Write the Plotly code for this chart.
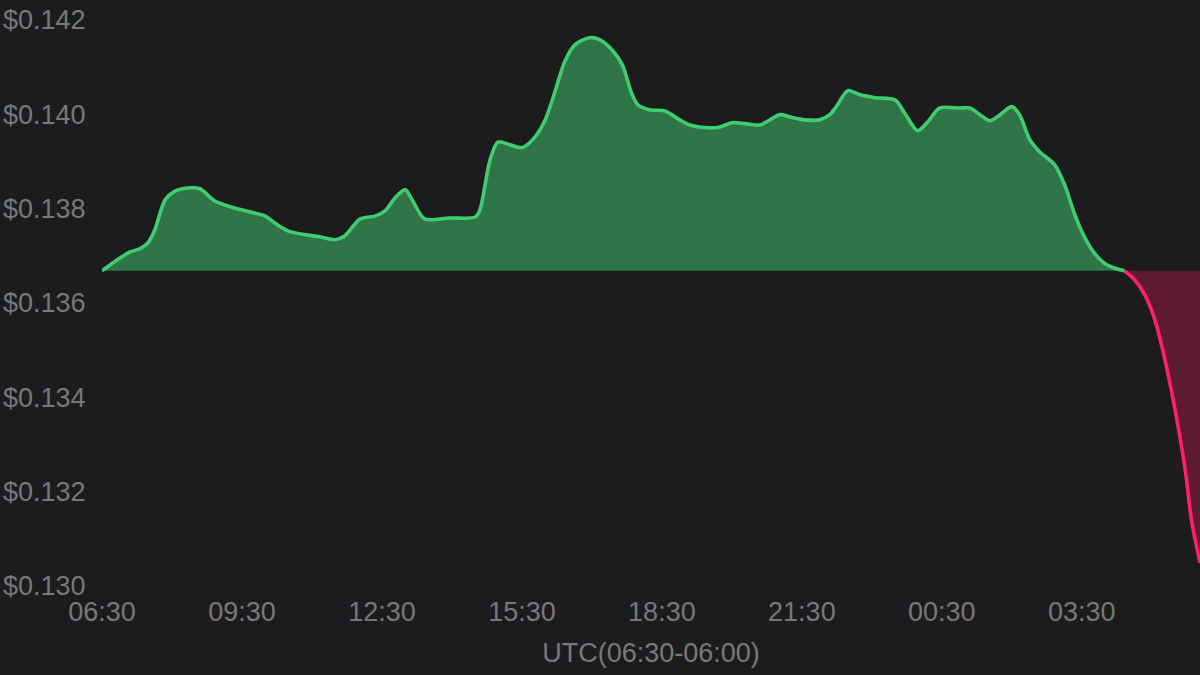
import plotly.graph_objects as go
from datetime import datetime

times = ["06:30","06:53","07:06","07:19","07:29","07:38","07:51","08:04","08:23","08:36",
         "08:55","09:15","09:40","10:00","10:16","10:32","11:10","11:30","11:42","12:02",
         "12:21","12:34","12:47","13:00","13:09","13:25","13:57","14:30","14:36","14:49",
         "14:59","15:15","15:30","15:47","16:00","16:12","16:25","16:38","16:57","17:10",
         "17:26","17:39","17:51","17:59","18:15","18:34","18:53","19:06","19:32","19:45",
         "20:00","20:17","20:36","20:49","21:02","21:15","21:34","21:53","22:06","22:16",
         "22:29","22:45","23:04","23:30","23:42","23:59","00:12","00:27","00:53","01:06",
         "01:19","01:32","01:45","02:00","02:10","02:23","02:36","02:55","03:08","03:21",
         "03:34","03:47","04:00","04:12","04:25","04:38","04:51","05:04","05:17","05:30",
         "05:43","05:51","06:02"]
prices = [0.13668,0.13695,0.13708,0.13715,0.13727,0.13755,0.13818,0.13837,0.13844,0.13842,
          0.13816,0.13804,0.13793,0.13784,0.13765,0.13751,0.13740,0.13734,0.13742,0.13778,
          0.13784,0.13795,0.13823,0.13840,0.13818,0.13778,0.13780,0.13782,0.13797,0.13903,
          0.13941,0.13935,0.13929,0.13952,0.13988,0.14045,0.14111,0.14147,0.14162,0.14158,
          0.14136,0.14105,0.14045,0.14020,0.14009,0.14007,0.13988,0.13977,0.13971,0.13973,
          0.13982,0.13980,0.13977,0.13988,0.13999,0.13994,0.13988,0.13988,0.13999,0.14020,
          0.14050,0.14041,0.14035,0.14030,0.14003,0.13965,0.13984,0.14013,0.14013,0.14013,
          0.13999,0.13986,0.13999,0.14016,0.13999,0.13946,0.13920,0.13893,0.13850,0.13787,
          0.13738,0.13704,0.13683,0.13674,0.13668,0.13649,0.13617,0.13564,0.13479,0.13373,
          0.13246,0.13140,0.13049]
baseline = 0.13668
y_ticks = [0.130, 0.132, 0.134, 0.136, 0.138, 0.140, 0.142]
y_labels = ["$0.130", "$0.132", "$0.134", "$0.136", "$0.138", "$0.140", "$0.142"]

# build datetimes with day rollover
start = datetime(2024, 1, 1, 6, 30)
xs = []
day = 0
prev = None
for t in times:
    h, m = map(int, t.split(":"))
    if prev is not None and h < prev:
        day += 1
    prev = h
    xs.append(datetime(2024, 1, 1 + day, h, m))

split = times.index("04:25")
gx, gy = xs[:split + 1], prices[:split + 1]
rx, ry = xs[split:], prices[split:]

GREEN = "#3fcd6f"
GREEN_FILL = "rgba(49,122,74,0.95)"
RED = "#ff1f6e"
RED_FILL = "rgba(98,28,54,0.95)"
BG = "#1c1c1e"
GRAY = "#787878"

fig = go.Figure()
fig.add_trace(go.Scatter(x=gx, y=[baseline] * len(gx), mode="lines",
                         line=dict(width=0, color=BG), hoverinfo="skip", showlegend=False))
fig.add_trace(go.Scatter(x=gx, y=gy, mode="lines", fill="tonexty", fillcolor=GREEN_FILL,
                         line=dict(color=GREEN, width=3.6, shape="spline", smoothing=0.8),
                         showlegend=False))
fig.add_trace(go.Scatter(x=rx, y=[baseline] * len(rx), mode="lines",
                         line=dict(width=0, color=BG), hoverinfo="skip", showlegend=False))
fig.add_trace(go.Scatter(x=rx, y=ry, mode="lines", fill="tonexty", fillcolor=RED_FILL,
                         line=dict(color=RED, width=3.6, shape="spline", smoothing=0.8),
                         showlegend=False))

fig.update_layout(
    width=1200, height=675,
    paper_bgcolor=BG, plot_bgcolor=BG,
    margin=dict(l=102, r=0, t=0, b=89),
    font=dict(family="Liberation Sans, Arial, sans-serif", size=27, color=GRAY),
    xaxis=dict(
        type="date",
        range=[start, datetime(2024, 1, 2, 6, 2)],
        tick0=start, dtick=3 * 3600 * 1000, tickformat="%H:%M",
        showgrid=False, zeroline=False, showline=True, linecolor="#222224",
        ticks="", tickfont=dict(size=27, color=GRAY), ticklabelstandoff=2,
        title=dict(text="UTC(06:30-06:00)", font=dict(size=27, color=GRAY), standoff=16),
    ),
    yaxis=dict(
        range=[0.130, 0.14242],
        tickvals=y_ticks, ticktext=y_labels,
        showgrid=False, zeroline=False, showline=True, linecolor="#222224",
        ticks="", tickfont=dict(size=27, color=GRAY), ticklabelstandoff=10,
    ),
)

fig.write_html("out.html", config={"displayModeBar": False},
               post_script="document.body.style.margin='0';document.body.style.background='#1c1c1e';")
